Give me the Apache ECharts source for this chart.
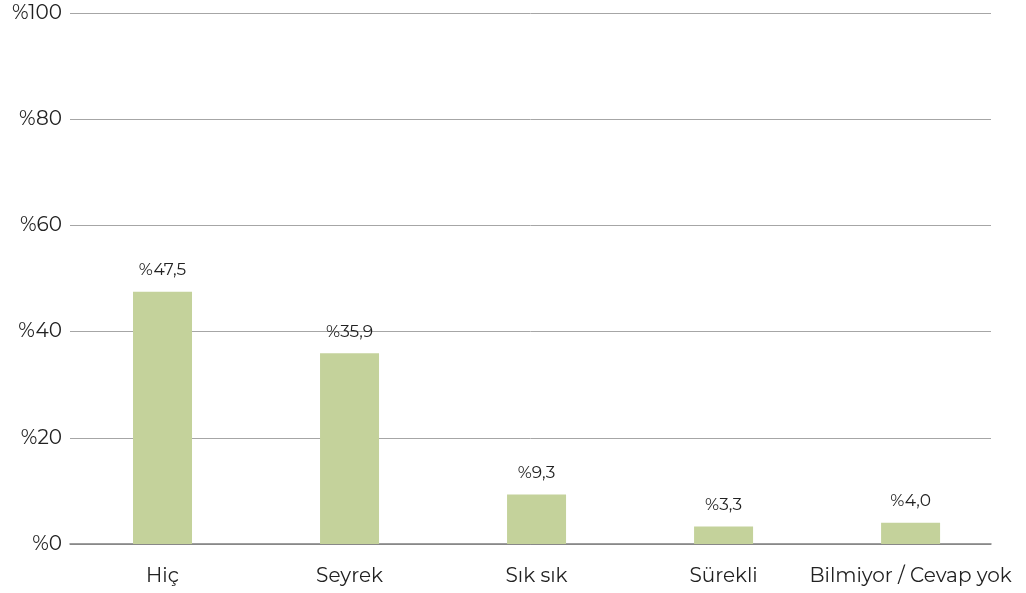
<!DOCTYPE html>
<html>
<head>
<meta charset="utf-8">
<script src="https://cdn.jsdelivr.net/npm/echarts@6/dist/echarts.min.js"></script>
<style>html,body{margin:0;padding:0;background:#fff}#c{width:1026px;height:593px}</style>
</head>
<body>
<div id="c"></div>
<script>
const categories = ['Hiç', 'Seyrek', 'Sık sık', 'Sürekli', 'Bilmiyor / Cevap yok'];
const values = [47.5, 35.9, 9.3, 3.3, 4.0];
const yTicks = [0, 20, 40, 60, 80, 100];

const fmt = v => '%' + v.toFixed(1).replace('.', ',');
const chart = echarts.init(document.getElementById('c'), null, {renderer: 'canvas'});
const font = 'Montserrat, "DejaVu Sans", "Noto Sans", sans-serif';
chart.setOption({
  animation: false,
  grid: {left: 70, right: 35, top: 13, bottom: 49},
  xAxis: {
    type: 'value', min: -0.4947, max: 4.430,
    splitLine: {show: false},
    axisLine: {show: true, lineStyle: {color: '#7f7f7f', width: 1.5}},
    axisTick: {show: false},
    axisLabel: {
      customValues: categories.map((_, i) => i),
      formatter: v => categories[Math.round(v)] || '',
      color: '#222', fontSize: 20, fontFamily: font, margin: 22
    }
  },
  yAxis: {
    type: 'value', min: 0, max: 100, interval: 20,
    axisLine: {show: false}, axisTick: {show: false},
    splitLine: {lineStyle: {color: '#a6a6a6', width: 1}},
    axisLabel: {formatter: v => yTicks.includes(v) ? '%' + v : '', color: '#222', fontSize: 20, fontFamily: font, margin: 8}
  },
  series: [{
    type: 'bar',
    data: values.map((v, i) => [i, v]),
    barWidth: 59,
    itemStyle: {color: '#c4d29b'},
    label: {show: true, position: 'top', distance: 13, formatter: p => fmt(p.value[1]), color: '#222', fontSize: 17, fontFamily: font}
  }]
});
</script>
</body>
</html>
